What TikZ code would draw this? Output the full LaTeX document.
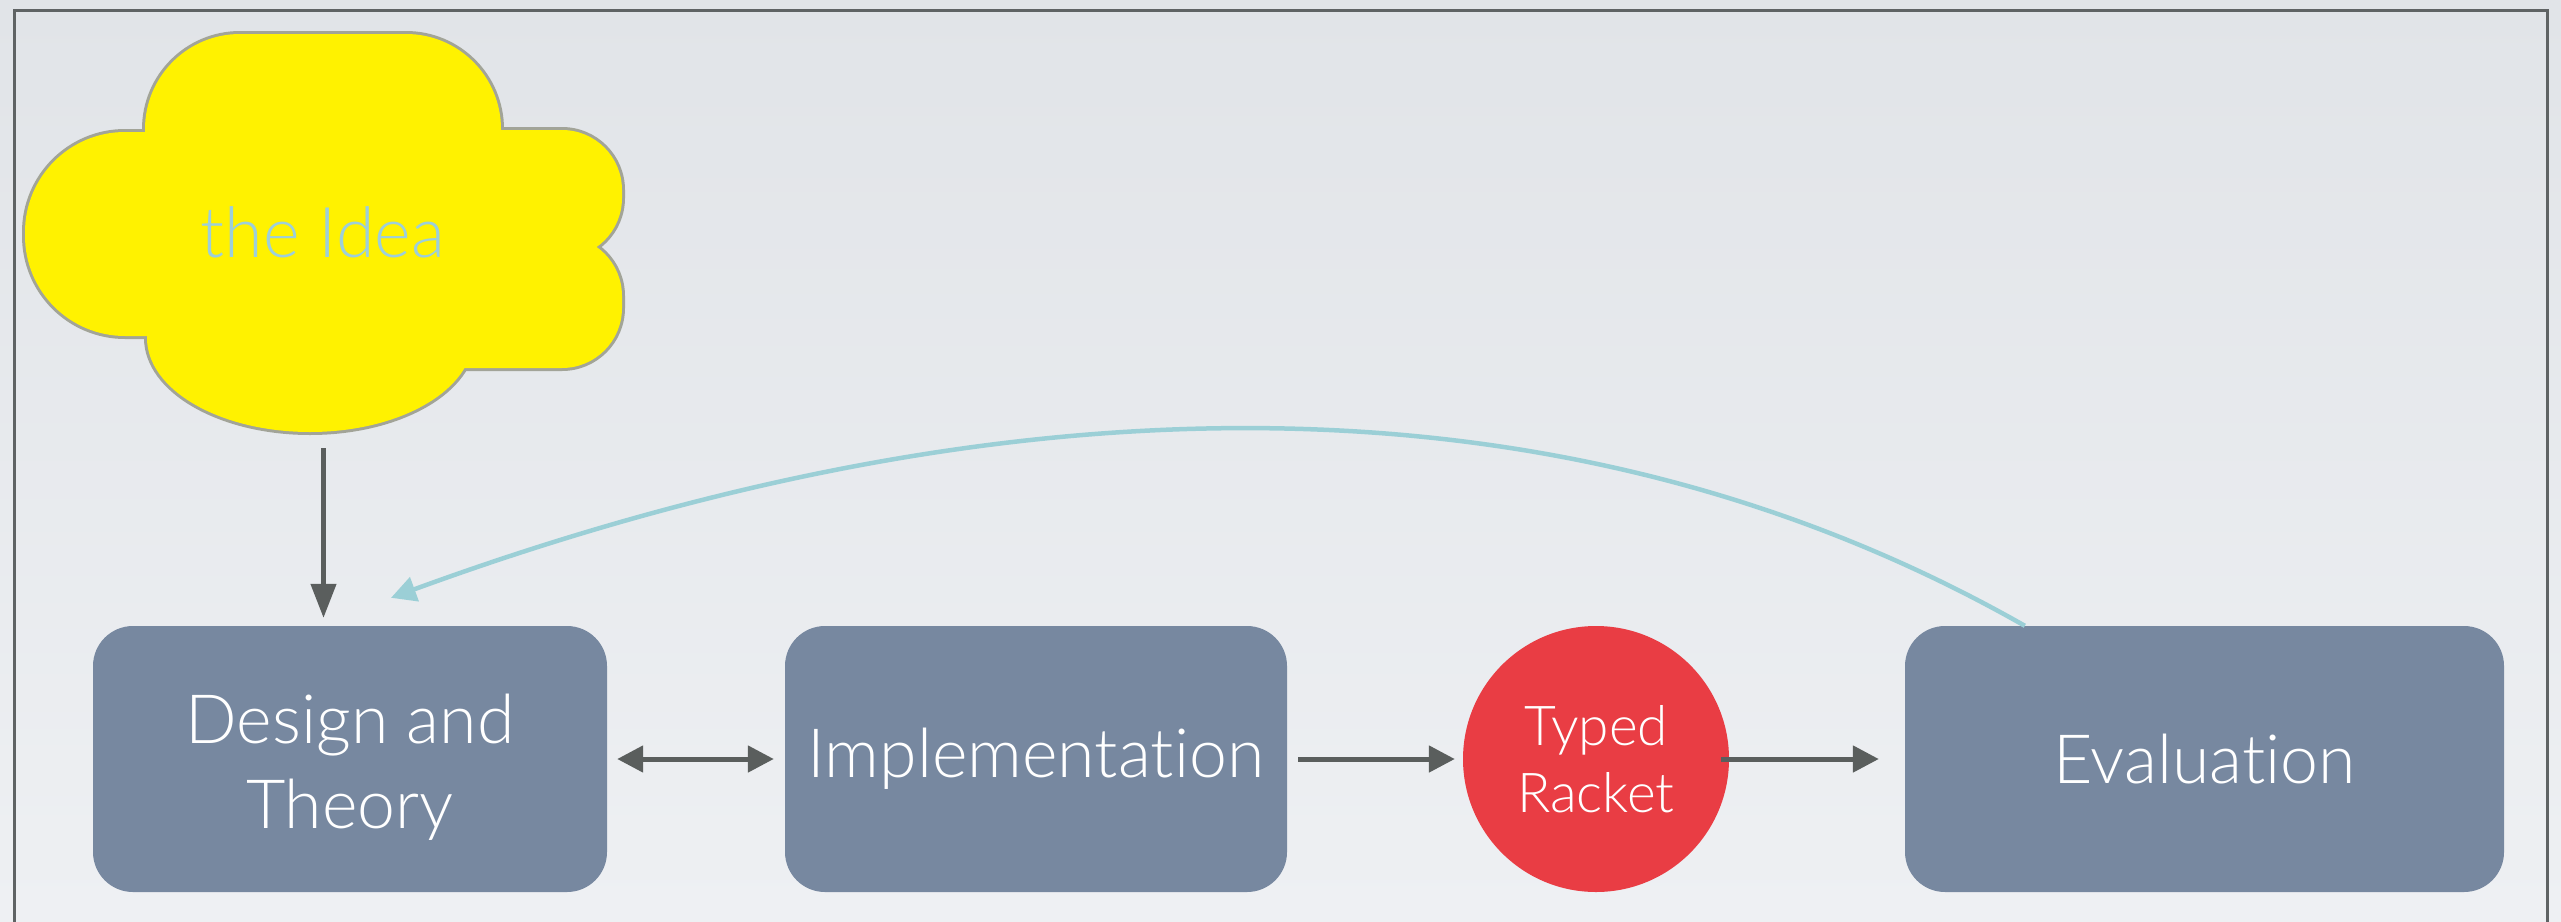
\documentclass[tikz,border=0pt]{standalone}
\usepackage{fontspec}
\setmainfont{Lato Light}[Ligatures=NoCommon]
\usetikzlibrary{arrows.meta,calc,shapes.geometric}

\definecolor{bgtop}{HTML}{E1E4E8}
\definecolor{bgbot}{HTML}{EEF0F3}
\definecolor{boxfill}{HTML}{7788A0}
\definecolor{racketred}{HTML}{E93D44}
\definecolor{arrowgray}{HTML}{5A5E5D}
\definecolor{loopteal}{HTML}{9BCFD6}
\definecolor{framegray}{HTML}{5F6364}
\definecolor{ideablue}{HTML}{9DCFDA}
\definecolor{cloudedge}{HTML}{A2A498}

% the lobes that make up the cloud, in pixel coordinates
\newcommand{\cloudlobes}[1]{%
  \path[#1, rounded corners=95pt] (145,34) rectangle (501,250);
  \path[#1, rounded corners=100pt] (25,132) rectangle (300,336);
  \path[#1, rounded corners=60pt] (350,130) rectangle (622,258);
  \path[#1, rounded corners=60pt] (350,236) rectangle (622,368);
  \path[#1] (310,338) ellipse [x radius=163pt, y radius=94pt];
  \path[#1] (160,140) rectangle (500,355);
}

\begin{document}
\begin{tikzpicture}[x=1pt,y=-1pt,
  stage/.style={rectangle, rounded corners=40pt, fill=boxfill, text=white,
    align=center, inner sep=0pt, minimum height=266pt,
    font=\fontsize{68}{85}\selectfont},
  racket/.style={circle, fill=racketred, text=white, align=center,
    minimum size=266pt, inner sep=0pt, font=\fontsize{55}{67}\selectfont},
  flow/.style={draw=arrowgray, line width=5pt, -{Triangle[length=26pt,width=26pt]}},
  twoway/.style={flow, {Triangle[length=26pt,width=26pt]}-{Triangle[length=26pt,width=26pt]}},
  drop/.style={draw=arrowgray, line width=4.5pt, -{Triangle[length=34pt,width=25pt]}},
  feedback/.style={draw=loopteal, line width=4.5pt, -{Triangle[length=25pt,width=25pt]}},
  ideatext/.style={text=ideablue, anchor=base, inner sep=0pt, font=\fontsize{70}{84}\selectfont},
  cloudrim/.style={draw=cloudedge, line width=6pt},
  cloudbody/.style={fill=yellow}
]
\useasboundingbox (0,0) rectangle (2561,921);

% backdrop and frame
\fill[top color=bgtop, bottom color=bgbot] (0,0) rectangle (2561,921);
\draw[framegray, line width=3pt] (14,930) -- (14,10) -- (2547,10) -- (2547,930);

% the cloud: grey rim under all lobes, then the yellow body on top
\cloudlobes{cloudrim}
\cloudlobes{cloudbody}
\node[ideatext] (idea) at (323,257) {the Idea};
\coordinate (cloudbot) at (323.5,432);

% stages
\node[stage, minimum width=514pt] (design) at (350,759) {\rule{0pt}{66pt}Design and\\Theory};
\node[stage, minimum width=502pt] (impl) at (1036,759) {Implementation};
\node[racket] (tr) at (1596,759) {Typed\\Racket};
\node[stage, minimum width=599pt] (eval) at (2204.5,759) {Evaluation};

% connectors
\draw[drop, shorten <=16pt, shorten >=8pt] (cloudbot) -- (cloudbot |- design.north);
\draw[twoway, shorten <=10pt, shorten >=11pt] (design.east) -- (impl.west);
\draw[flow, shorten <=11pt, shorten >=8pt] (impl.east) -- (tr.west);
\draw[flow, shorten <=-8pt, shorten >=26pt] (tr.east) -- (eval.west);

\coordinate (fbstart) at ($(eval.north west)+(120,0)$);
\coordinate (fbend) at ($(design.north)+(41,-28)$);
\draw[feedback] (fbstart) .. controls (1570,367) and (1014,370) .. (fbend);
\end{tikzpicture}
\end{document}
